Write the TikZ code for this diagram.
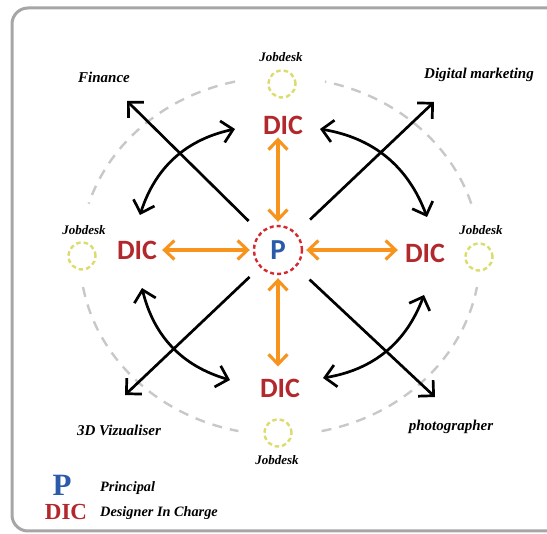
\documentclass[tikz,border=0pt]{standalone}
\usepackage{fontspec}
\setmainfont{Liberation Serif}
\newfontfamily\carl{Carlito}
\usetikzlibrary{arrows.meta}
\definecolor{dicred}{HTML}{B3282D}
\definecolor{pblue}{HTML}{2B5BA8}
\definecolor{orng}{HTML}{F7941E}
\definecolor{ringgray}{HTML}{C8C8C8}
\definecolor{jobyel}{HTML}{DCDC6E}
\definecolor{framegray}{HTML}{A6A6A6}
\definecolor{pring}{HTML}{D42A2F}
\tikzset{
  dictext/.style={font=\carl\bfseries\fontsize{28}{28}\selectfont, text=dicred, inner sep=2pt},
  lbl/.style={font=\bfseries\itshape\fontsize{15}{15}\selectfont, inner sep=1pt},
  leglbl/.style={font=\bfseries\itshape\fontsize{14.3}{14.3}\selectfont, inner sep=1pt},
  joblbl/.style={font=\bfseries\itshape\fontsize{13}{13}\selectfont, inner sep=1pt},
  jobcirc/.style={circle, draw=jobyel, line width=2.4pt, dash pattern=on 4.5pt off 3pt, minimum size=27pt, inner sep=0pt},
  btip/.style={Straight Barb[length=11pt,width=22pt]},
  barrow/.style={draw=black, line width=2.7pt, -{Straight Barb[length=11pt,width=22pt]}},
  bdarrow/.style={draw=black, line width=2.7pt, {Straight Barb[length=11pt,width=22pt]}-{Straight Barb[length=11pt,width=22pt]}},
  oarrow/.style={draw=orng, line width=3.1pt, {Straight Barb[length=10pt,width=19pt]}-{Straight Barb[length=10pt,width=19pt]}},
  ring/.style={draw=ringgray, line width=2.4pt, dash pattern=on 10pt off 8pt},
}
\begin{document}
\begin{tikzpicture}[x=1pt,y=-1pt]
\useasboundingbox (0,0) rectangle (547,534);
% frame
\draw[framegray, line width=3pt, rounded corners=16pt] (12,8) rectangle (575,531);
% outer dashed ellipse with gaps
\draw[ring, domain=17:77, samples=40, smooth] plot ({280+200*cos(\x)},{256-179*sin(\x)});
\draw[ring, domain=103:163, samples=40, smooth] plot ({280+200*cos(\x)},{256-179*sin(\x)});
\draw[ring, domain=190:258, samples=40, smooth] plot ({280+200*cos(\x)},{256-179*sin(\x)});
\draw[ring, domain=282:350, samples=40, smooth] plot ({280+200*cos(\x)},{256-179*sin(\x)});
% center
\node[circle, draw=pring, line width=2.4pt, dash pattern=on 4pt off 3pt, minimum size=48pt, inner sep=0pt,
      font=\carl\bfseries\fontsize{29}{29}\selectfont, text=pblue] (P) at (278,250) {P};
% DIC nodes
\node[dictext] (dicT) at (283,125) {DIC};
\node[dictext] (dicL) at (137,250) {DIC};
\node[dictext] (dicR) at (425,253) {DIC};
\node[dictext] (dicB) at (280,388) {DIC};
% jobdesk
\node[jobcirc] (jT) at (282,84) {};
\node[jobcirc] (jL) at (82,256) {};
\node[jobcirc] (jR) at (479,257) {};
\node[jobcirc] (jB) at (278,433) {};
\node[joblbl] (jTl) at (281,57) {Jobdesk};
\node[joblbl] (jLl) at (84,230) {Jobdesk};
\node[joblbl] (jRl) at (481,230) {Jobdesk};
\node[joblbl] (jBl) at (277,460) {Jobdesk};
% role labels
\node[lbl] (fin) at (104,77) {Finance};
\node[lbl] (dig) at (479,75) {Digital marketing};
\node[lbl] (viz) at (119,430) {3D Vizualiser};
\node[lbl] (pho) at (451,427) {photographer};
% diagonal arrows
\coordinate (tNW) at (127,101);
\coordinate (tNE) at (434,102);
\coordinate (tSW) at (125,395);
\coordinate (tSE) at (435,397);
\draw[barrow, shorten <=16pt] (P) -- (tNW);
\draw[barrow, shorten <=19pt] (P) -- (tNE);
\draw[barrow, shorten <=14pt] (P) -- (tSW);
\draw[barrow, shorten <=18pt] (P) -- (tSE);
% orange arrows
\draw[oarrow, shorten >=3pt, shorten <=1pt] (P.north |- dicT.south) -- (P.north);
\draw[oarrow, shorten >=3pt, shorten <=3pt] (dicL.east) -- (P.west);
\draw[oarrow, shorten >=3pt, shorten <=5pt] (P.east -| dicR.west) -- (P.east);
\draw[oarrow, shorten >=3pt, shorten <=10pt] (P.south |- dicB.north) -- (P.south);
% curved arrows
\coordinate (a1) at (235,129); \coordinate (a2) at (140,215);
\coordinate (b1) at (320,129); \coordinate (b2) at (427,217);
\coordinate (c1) at (142,288); \coordinate (c2) at (230,380);
\coordinate (d1) at (323,378); \coordinate (d2) at (424,295);
\draw[bdarrow] (a1) to[bend right=30] (a2);
\draw[bdarrow] (b1) to[bend left=30] (b2);
\draw[bdarrow] (c1) to[bend right=30] (c2);
\draw[bdarrow] (d1) to[bend right=30] (d2);
% legend
\node[font=\bfseries\fontsize{31}{31}\selectfont, text=pblue, inner sep=0pt] (legP) at (62,485) {P};
\node[font=\bfseries\fontsize{23}{23}\selectfont, text=dicred, inner sep=0pt] (legD) at (66,512) {DIC};
\node[leglbl, anchor=west] (legPt) at (99,488) {Principal};
\node[leglbl, anchor=west] (legDt) at (99,513) {Designer In Charge};
\end{tikzpicture}
\end{document}
